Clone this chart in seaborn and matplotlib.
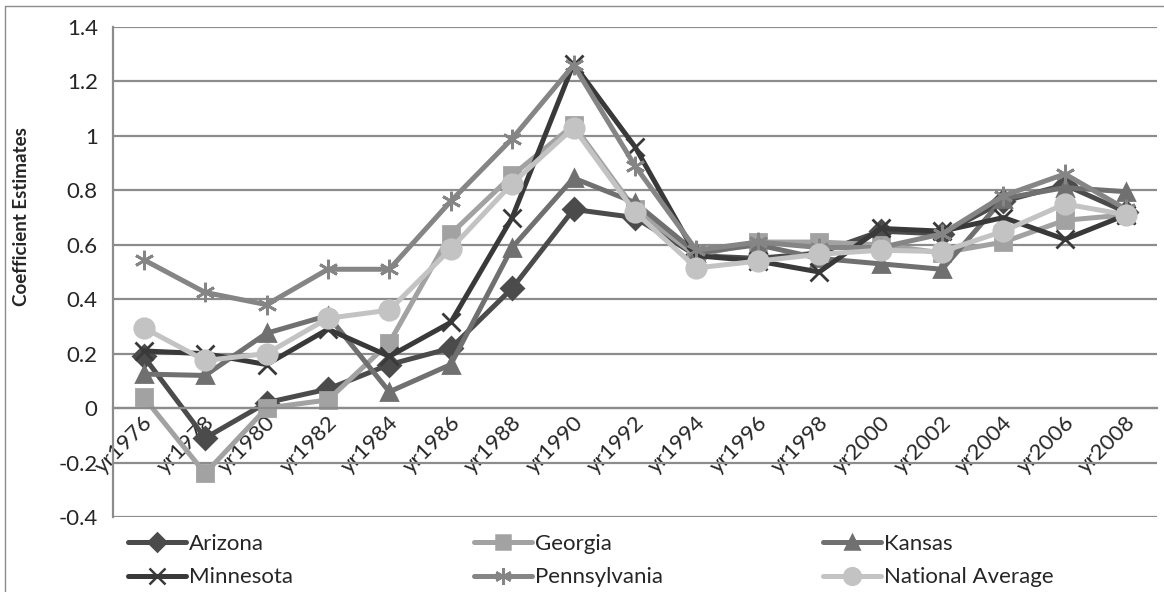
# ============================================
# Coefficient estimates by state, 1976-2008
# ============================================

import numpy as np
import pandas as pd
import matplotlib.pyplot as plt
import matplotlib.transforms as mtransforms
import seaborn as sns
from matplotlib.lines import Line2D

# ============================================
# 1. Data
# ============================================

years = ['yr1976', 'yr1978', 'yr1980', 'yr1982', 'yr1984', 'yr1986', 'yr1988',
         'yr1990', 'yr1992', 'yr1994', 'yr1996', 'yr1998', 'yr2000', 'yr2002',
         'yr2004', 'yr2006', 'yr2008']

arizona = [0.19, -0.11, 0.02, 0.07, 0.16, 0.22, 0.44, 0.73, 0.70, 0.56,
           0.55, 0.57, 0.65, 0.64, 0.76, 0.82, 0.72]
georgia = [0.04, -0.24, 0.00, 0.03, 0.24, 0.64, 0.855, 1.04, 0.73, 0.56,
           0.61, 0.61, 0.60, 0.57, 0.61, 0.69, 0.71]
kansas = [0.125, 0.12, 0.275, 0.34, 0.06, 0.16, 0.59, 0.845, 0.755, 0.57,
          0.60, 0.55, 0.53, 0.51, 0.77, 0.81, 0.795]
minnesota = [0.21, 0.20, 0.16, 0.29, 0.19, 0.315, 0.70, 1.265, 0.96, 0.56,
             0.54, 0.50, 0.66, 0.65, 0.70, 0.62, 0.71]
pennsylvania = [0.545, 0.425, 0.38, 0.51, 0.51, 0.76, 0.99, 1.26, 0.89, 0.58,
                0.61, 0.59, 0.59, 0.64, 0.78, 0.86, 0.73]
national_avg = [0.295, 0.175, 0.20, 0.33, 0.36, 0.585, 0.825, 1.03, 0.72, 0.515,
                0.54, 0.565, 0.58, 0.575, 0.65, 0.75, 0.71]

series_names = ['Arizona', 'Georgia', 'Kansas', 'Minnesota', 'Pennsylvania',
                'National Average']
y_ticks = [-0.4, -0.2, 0, 0.2, 0.4, 0.6, 0.8, 1, 1.2, 1.4]

# long-format table for seaborn
df = pd.DataFrame({
    'year': years * 6,
    'coef': arizona + georgia + kansas + minnesota + pennsylvania + national_avg,
    'state': np.repeat(series_names, len(years)),
})

# ============================================
# 2. Styles
# ============================================

palette = {
    'Arizona': '#4b4b4b',
    'Georgia': '#a2a2a2',
    'Kansas': '#707070',
    'Minnesota': '#393939',
    'Pennsylvania': '#858585',
    'National Average': '#c3c3c3',
}
markers = {
    'Arizona': 'D',
    'Georgia': 's',
    'Kansas': '^',
    'Minnesota': 'x',
    'Pennsylvania': (6, 2, 0),
    'National Average': 'o',
}
marker_sizes = {
    'Arizona': 11, 'Georgia': 12, 'Kansas': 12,
    'Minnesota': 13, 'Pennsylvania': 14, 'National Average': 14,
}

sns.set_style('white')
plt.rcParams['font.family'] = ['Lato', 'DejaVu Sans']
FS = 16

# ============================================
# 3. Plot
# ============================================

fig = plt.figure(figsize=(11.64, 5.92), dpi=100)
ax = fig.add_axes([113 / 1164, 1 - 517 / 592, 1044 / 1164, 490 / 592])

for name in series_names:
    sub = df[df['state'] == name]
    sns.lineplot(data=sub, x='year', y='coef', color=palette[name],
                 marker=markers[name], markersize=marker_sizes[name],
                 markeredgecolor=palette[name], markerfacecolor=palette[name],
                 markeredgewidth=2.0, linewidth=3.6, sort=False, ax=ax)

ax.set_xlim(-0.5, len(years) - 0.5)
ax.set_ylim(-0.4, 1.4)
ax.set_yticks(y_ticks)
ax.set_yticklabels([f'{v:g}' for v in y_ticks], fontsize=FS)
ax.yaxis.grid(True, color='#8c8c8c', linewidth=1.6)
ax.set_axisbelow(True)

# category axis crosses at 0, like the original
for s in ['top', 'right']:
    ax.spines[s].set_visible(False)
ax.spines['bottom'].set_position(('data', 0))
ax.spines['bottom'].set_color('#8c8c8c')
ax.spines['bottom'].set_linewidth(1.6)
ax.spines['left'].set_color('#8c8c8c')
ax.spines['left'].set_linewidth(1.6)

ax.set_xticks(np.arange(len(years) + 1) - 0.5, minor=False)
ax.set_xticklabels([''] * (len(years) + 1))
ax.set_xticks(np.arange(len(years)), minor=True)
ax.set_xticklabels(years, minor=True, rotation=45, ha='right', va='center',
                   rotation_mode='anchor', fontsize=FS)
ax.tick_params(axis='x', which='major', direction='out', length=7,
               width=1.5, color='#8c8c8c')
ax.tick_params(axis='x', which='minor', length=0, pad=7)
ax.tick_params(axis='y', direction='out', length=7, width=1.5,
               color='#8c8c8c', pad=4)
ax.set_xlabel('')
ax.set_ylabel('')

# nudge the slanted year labels a little right, as in the original
shift = mtransforms.ScaledTranslation(6 / 100, -2 / 100, fig.dpi_scale_trans)
for lab in ax.get_xticklabels(minor=True):
    lab.set_transform(lab.get_transform() + shift)

fig.text(22 / 1164, 1 - 217 / 592, 'Coefficient Estimates', rotation=90,
         ha='center', va='center', fontsize=13.5, fontweight='bold')

# ============================================
# 4. Legend below the plot (three columns, filled row by row)
# ============================================

def legend_handle(n):
    return Line2D([0], [0], color=palette[n], marker=markers[n], linewidth=3.6,
                  markersize=marker_sizes[n] - 2, markeredgewidth=1.8,
                  markeredgecolor=palette[n], markerfacecolor=palette[n])

col_x = [128, 474, 823]
for c, x0 in enumerate(col_x):
    names = [series_names[c], series_names[c + 3]]
    fig.legend([legend_handle(n) for n in names], names, loc='upper left',
               bbox_to_anchor=(x0 / 1164, 1 - 534 / 592), frameon=False,
               fontsize=FS, handlelength=2.6, handletextpad=0.15,
               labelspacing=0.6, borderpad=0, borderaxespad=0)

# chart area border (top and left edges visible)
fig.add_artist(Line2D([5 / 1164, 5 / 1164], [0, 1 - 6 / 592],
                      color='#8c8c8c', linewidth=1.0))
fig.add_artist(Line2D([5 / 1164, 1], [1 - 6 / 592, 1 - 6 / 592],
                      color='#8c8c8c', linewidth=1.0))

plt.savefig('out.png', dpi=100)
